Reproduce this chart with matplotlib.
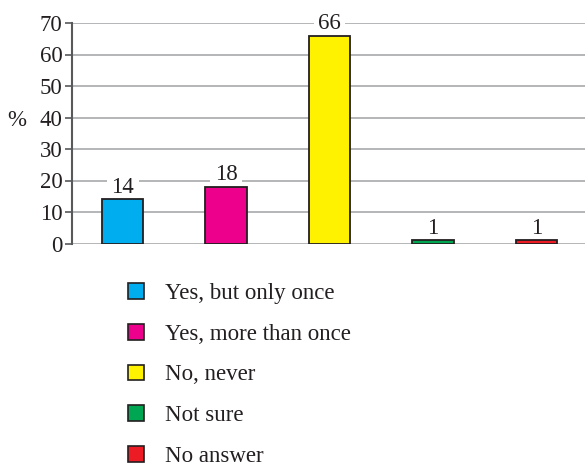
import matplotlib.pyplot as plt
from matplotlib.patches import Patch

categories = ['Yes, but only once', 'Yes, more than once', 'No, never', 'Not sure', 'No answer']
values = [14, 18, 66, 1, 1]
colors = ['#00aeef', '#ec008c', '#fff200', '#00a651', '#ed1c24']
yticks = [0, 10, 20, 30, 40, 50, 60, 70]

plt.rcParams['font.family'] = ['Liberation Serif', 'DejaVu Serif']

fig = plt.figure(figsize=(5.85, 4.68), dpi=100)
ax = fig.add_axes([72 / 585, 1 - 243.5 / 468, 513 / 585, 220.5 / 468])

x = list(range(len(values)))
ax.bar(x, values, width=0.4, color=colors, edgecolor='#231f20', linewidth=1.3, zorder=3)

# value labels sit on a white box that breaks the grid line, but under the bars
for xi, v in zip(x, values):
    ax.annotate(str(v), (xi, v), xytext=(0, 1), textcoords='offset points',
                ha='center', va='bottom', fontsize=16.5, color='#231f20', zorder=2,
                bbox=dict(boxstyle='square,pad=0.2', fc='white', ec='none'))

ax.set_xlim(-0.49, 4.47)
ax.set_ylim(0, 70)
ax.set_yticks(yticks)
ax.set_xticks([])
ax.yaxis.grid(True, color='#a7a9ac', linewidth=1.2, zorder=0)
ax.set_axisbelow(True)
ax.tick_params(axis='y', labelsize=16.5, labelcolor='#231f20', color='#58595b',
               length=5, width=1.2, pad=2)
for s in ['top', 'right', 'bottom']:
    ax.spines[s].set_visible(False)
ax.spines['left'].set_color('#58595b')
ax.spines['left'].set_linewidth(1.5)
ax.spines['left'].set_zorder(5)

fig.text(17 / 585, 1 - 120 / 468, '%', fontsize=16.5, color='#231f20', ha='center', va='center')

handles = [Patch(facecolor=c, edgecolor='#231f20', linewidth=1.2) for c in colors]
fig.legend(handles, categories, loc='upper left', bbox_to_anchor=(128 / 585, 1 - 283 / 468),
           frameon=False, fontsize=16.5, handlelength=0.68, handleheight=0.68,
           handletextpad=0.95, labelspacing=0.86, labelcolor='#231f20',
           borderpad=0, borderaxespad=0)

fig.savefig('out.png', dpi=100)
